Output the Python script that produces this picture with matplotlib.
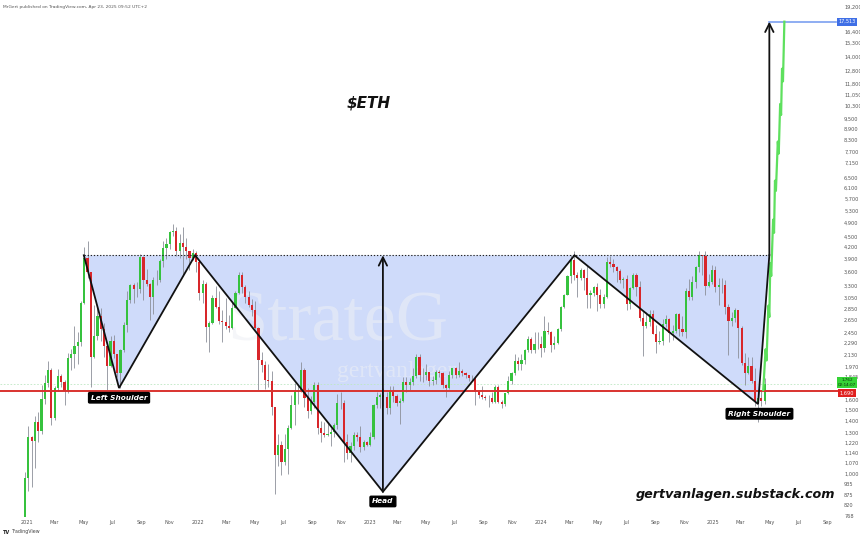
import numpy as np
import matplotlib
matplotlib.use('Agg')
import matplotlib.pyplot as plt
import matplotlib.dates as mdates
from matplotlib.ticker import NullLocator
from matplotlib.transforms import blended_transform_factory

# ---------------- data (weekly ETH/USD candles) ----------------
first_week = '2020-12-28'
first_open = 737

close = [975, 1260, 1230, 1390, 1315, 1610, 1780, 1935, 1420, 1725,
         1855, 1785, 1690, 2080, 2140, 2240, 2310, 2950, 3930, 3590,
         2100, 2390, 2710, 2510, 2250, 1980, 2320, 2140, 1890, 2190,
         2560, 3010, 3310, 3230, 3220, 3940, 3410, 3330, 3060, 3420,
         3410, 3850, 4170, 4290, 4620, 4640, 4100, 4300, 4200, 4100,
         3930, 4060, 3830,
         3150, 3330, 2540, 2600, 3050, 2880, 2630, 2620, 2550, 2520,
         2860, 3140, 3520, 3260, 3060, 2920, 2830, 2520, 2060, 1990,
         1810, 1800, 1530, 1130, 1200, 1075, 1170, 1340, 1550, 1680,
         1700, 1935, 1620, 1490, 1580, 1760, 1340, 1295, 1275, 1290,
         1305, 1360, 1570, 1570, 1220, 1140, 1195, 1280, 1265, 1185,
         1220, 1200,
         1265, 1550, 1630, 1650, 1630, 1515, 1690, 1640, 1565, 1590,
         1790, 1750, 1790, 1860, 2090, 1870, 1870, 1900, 1800, 1810,
         1910, 1890, 1750, 1720, 1870, 1950, 1865, 1920, 1890, 1865,
         1830, 1840, 1680, 1650, 1630, 1620, 1620, 1580, 1730, 1580,
         1555, 1665, 1795, 1895, 2045, 2010, 2060, 2190, 2350, 2195,
         2270, 2280,
         2220, 2475, 2450, 2260, 2290, 2500, 2880, 3110, 3490, 3880,
         3520, 3450, 3640, 3450, 3100, 3150, 3260, 3110, 2930, 3070,
         3830, 3780, 3700, 3620, 3420, 3440, 2930, 3250, 3530, 3270,
         2690, 2555, 2610, 2750, 2425, 2300, 2315, 2580, 2660, 2440,
         2470, 2750, 2510, 2460, 3180, 3070, 3360, 3710, 4000, 3960,
         3280, 3360,
         3630, 3270, 3310, 3300, 2870, 2630, 2690, 2820, 2520, 2020,
         1890, 1980, 1800, 1580, 1620, 1590, 1762]

high = [1010, 1350, 1270, 1440, 1475, 1750, 1870, 2040, 1950, 1740,
        1940, 1880, 1815, 2145, 2200, 2550, 2450, 2980, 4200, 4380,
        3600, 2910, 2890, 2850, 2600, 2250, 2400, 2410, 2140, 2200,
        2620, 3180, 3330, 3340, 3380, 4030, 3980, 3650, 3340, 3480,
        3640, 3890, 4370, 4460, 4660, 4870, 4770, 4560, 4780, 4440,
        4100, 4160, 4100,
        3880, 3420, 3380, 2640, 3100, 3290, 3190, 2830, 3040, 2730,
        2990, 3180, 3580, 3580, 3300, 3180, 3030, 2990, 2530, 2160,
        2040, 2010, 1920, 1530, 1290, 1230, 1290, 1360, 1650, 1780,
        1750, 2030, 1960, 1720, 1640, 1790, 1790, 1400, 1390, 1390,
        1340, 1380, 1660, 1680, 1600, 1290, 1220, 1300, 1300, 1350,
        1240, 1235,
        1300, 1560, 1680, 1670, 1720, 1680, 1740, 1740, 1660, 1620,
        1850, 1850, 1840, 1950, 2140, 2130, 1960, 2010, 1910, 1860,
        1930, 1930, 1900, 1770, 1920, 1960, 1970, 2030, 1940, 1900,
        1870, 1870, 1850, 1700, 1745, 1650, 1650, 1680, 1750, 1750,
        1600, 1670, 1860, 1910, 2140, 2100, 2130, 2200, 2400, 2380,
        2450, 2450,
        2400, 2720, 2610, 2470, 2390, 2520, 2900, 3130, 3520, 3990,
        4090, 3590, 3680, 3650, 3730, 3200, 3290, 3350, 3220, 3130,
        3950, 3980, 3890, 3720, 3650, 3480, 3520, 3270, 3560, 3560,
        3400, 2800, 2790, 2820, 2820, 2570, 2470, 2660, 2730, 2680,
        2560, 2770, 2770, 2720, 3250, 3440, 3500, 3720, 4100, 4010,
        4110, 3550,
        3760, 3740, 3450, 3450, 3420, 2940, 2790, 2850, 2830, 2550,
        2150, 2100, 2100, 1960, 1690, 1690, 1830]

low = [715, 900, 920, 1040, 1220, 1290, 1560, 1730, 1360, 1410,
       1690, 1730, 1550, 1670, 1935, 1950, 2000, 2250, 2930, 3450,
       1730, 2080, 2330, 2320, 2090, 1700, 1970, 2080, 1850, 1720,
       2160, 2450, 2950, 2950, 3060, 3150, 3000, 3290, 2650, 2750,
       3300, 3380, 3700, 3900, 4150, 4500, 3960, 3930, 3500, 3900,
       3640, 3880, 3600,
       3000, 2950, 2300, 2160, 2580, 2850, 2580, 2300, 2500, 2450,
       2500, 2850, 3130, 3150, 2950, 2880, 2720, 2500, 1700, 1900,
       1710, 1730, 1450, 880, 1050, 990, 1060, 1000, 1330, 1360,
       1560, 1680, 1530, 1420, 1460, 1520, 1290, 1220, 1260, 1270,
       1190, 1260, 1330, 1510, 1080, 1100, 1075, 1160, 1230, 1150,
       1160, 1190,
       1190, 1250, 1520, 1520, 1540, 1460, 1460, 1580, 1540, 1370,
       1580, 1680, 1700, 1760, 1840, 1800, 1790, 1810, 1740, 1760,
       1770, 1850, 1720, 1630, 1710, 1830, 1830, 1850, 1860, 1830,
       1800, 1800, 1550, 1620, 1610, 1600, 1530, 1570, 1570, 1570,
       1520, 1540, 1660, 1770, 1870, 1930, 1930, 2010, 2170, 2150,
       2150, 2200,
       2100, 2170, 2420, 2170, 2200, 2270, 2470, 2860, 3100, 3350,
       3420, 3060, 3420, 3210, 2850, 2860, 3080, 2810, 2860, 2860,
       3050, 3700, 3600, 3370, 3350, 3240, 2820, 2840, 3220, 3090,
       2630, 2110, 2520, 2550, 2420, 2150, 2270, 2260, 2540, 2310,
       2340, 2440, 2400, 2400, 2360, 3000, 3000, 3250, 3600, 3520,
       3100, 3260,
       3330, 3160, 2920, 3140, 2750, 2120, 2550, 2620, 2080, 1990,
       1750, 1880, 1780, 1540, 1390, 1540, 1560]

# inverse head & shoulders drawing
pattern_dates = ['2021-05-02', '2021-07-16', '2021-12-25', '2023-01-29',
                 '2024-03-12', '2025-04-07', '2025-05-01']
pattern_prices = [3990, 1722, 3990, 893, 3990, 1556, 3990]
pattern_names = {1: 'Left Shoulder', 3: 'Head', 5: 'Right Shoulder'}

neck_price = 3990
support_price = 1690
last_price = 1762
target_price = 17513

# projected path (light green)
proj_dates = ['2025-04-18', '2025-04-23', '2025-04-25', '2025-04-29', '2025-05-01',
              '2025-05-03', '2025-05-05', '2025-05-09', '2025-05-11', '2025-05-13',
              '2025-05-15', '2025-05-19', '2025-05-21', '2025-05-24', '2025-05-26',
              '2025-05-28', '2025-05-30', '2025-06-02']
proj_prices = [1700, 2200, 2050, 2900, 2700, 3800, 3500, 5000, 4600, 6400,
               6000, 8200, 7600, 10400, 9700, 13000, 12000, 17513]

y_tick_values = [19200, 16400, 15300, 14000, 12800, 11800, 11050, 10300, 9500, 8900,
                 8300, 7700, 7150, 6500, 6100, 5700, 5300, 4900, 4500, 4200, 3900,
                 3600, 3300, 3050, 2850, 2650, 2450, 2290, 2130, 1970, 1845, 1600,
                 1500, 1400, 1300, 1220, 1140, 1070, 1000, 935, 875, 820, 768]

x_tick_dates = ['2021-01-01', '2021-03-01', '2021-05-01', '2021-07-01', '2021-09-01', '2021-11-01',
                '2022-01-01', '2022-03-01', '2022-05-01', '2022-07-01', '2022-09-01', '2022-11-01',
                '2023-01-01', '2023-03-01', '2023-05-01', '2023-07-01', '2023-09-01', '2023-11-01',
                '2024-01-01', '2024-03-01', '2024-05-01', '2024-07-01', '2024-09-01', '2024-11-01',
                '2025-01-01', '2025-03-01', '2025-05-01', '2025-07-01', '2025-09-01']
x_tick_labels = ['2021', 'Mar', 'May', 'Jul', 'Sep', 'Nov',
                 '2022', 'Mar', 'May', 'Jul', 'Sep', 'Nov',
                 '2023', 'Mar', 'May', 'Jul', 'Sep', 'Nov',
                 '2024', 'Mar', 'May', 'Jul', 'Sep', 'Nov',
                 '2025', 'Mar', 'May', 'Jul', 'Sep']

# ---------------- figure ----------------
W, H = 860, 539
fig = plt.figure(figsize=(W / 100, H / 100), dpi=100)
ax_left, ax_right, ax_top, ax_bottom = 0, 833, 0, 517
ax = fig.add_axes([ax_left / W, (H - ax_bottom) / H,
                   (ax_right - ax_left) / W, (ax_bottom - ax_top) / H])
ax.set_yscale('log')

def dn(s):
    return mdates.date2num(np.datetime64(s))

n = len(close)
dates = mdates.date2num(np.datetime64(first_week) + np.arange(n) * np.timedelta64(7, 'D'))
opens = np.array([first_open] + close[:-1], dtype=float)
closes = np.array(close, dtype=float)
highs = np.array(high, dtype=float)
lows = np.array(low, dtype=float)

up = closes >= opens
green, red = '#36c23e', '#d8262a'
cols = np.where(up, green, red)

# pattern fill
pdn = [dn(d) for d in pattern_dates]
ax.fill(pdn, pattern_prices, color='#cad8fa', alpha=0.9, zorder=1, lw=0)

# watermark
ax.text(0.405, 0.342, 'StrateG', transform=ax.transAxes, fontsize=52,
        family='Liberation Serif', color='#eef0f5', alpha=0.55, ha='center',
        va='baseline', zorder=1.5)
ax.text(0.478, 0.27, 'gertvanlagen', transform=ax.transAxes, fontsize=17,
        family='Liberation Serif', color='#eef0f5', alpha=0.55, ha='center',
        va='baseline', zorder=1.5)

# candles
ax.vlines(dates, lows, highs, color='#8c8f99', lw=0.6, zorder=2)
ax.bar(dates, np.abs(closes - opens), bottom=np.minimum(opens, closes),
       width=4.6, color=cols, lw=0, zorder=3)

# support / current price lines
ax.plot([dn('2020-11-01'), dn('2025-09-25')], [support_price, support_price],
        color='#d9332f', lw=1.4, zorder=4, clip_on=False)
ax.axhline(last_price, color='#bfe8c4', lw=0.6, ls=(0, (2, 2)), zorder=1.8)

# neckline
ax.plot([pdn[0], pdn[-1]], [neck_price, neck_price], color='#222222', lw=0.8,
        ls=(0, (1.2, 1.6)), zorder=4)
# zigzag
ax.plot(pdn, pattern_prices, color='#111111', lw=1.3, zorder=5, solid_joinstyle='miter')

# head arrow
ax.annotate('', xy=(pdn[3], neck_price), xytext=(pdn[3], pattern_prices[3]),
            arrowprops=dict(arrowstyle='->', color='#111111', lw=1.3, mutation_scale=15,
                            shrinkA=0, shrinkB=0), zorder=5)
# target arrow
ax.annotate('', xy=(pdn[-1], target_price), xytext=(pdn[-1], neck_price),
            arrowprops=dict(arrowstyle='->', color='#111111', lw=1.3, mutation_scale=15,
                            shrinkA=0, shrinkB=0), zorder=5)
# target line
ax.plot([pdn[-1], dn('2025-09-20')], [target_price, target_price],
        color='#7b9ff0', lw=1.2, zorder=4, clip_on=False)

# projection
ax.plot([dn(d) for d in proj_dates], proj_prices, color='#5ee05e', lw=1.6, zorder=4)

# pattern labels
for i, name in pattern_names.items():
    ax.annotate(name, xy=(pdn[i], pattern_prices[i]), xytext=(1 if i == 5 else 0, -7),
                textcoords='offset points', ha='center', va='center', fontsize=5.3,
                color='white', fontweight='bold', style='italic', zorder=7,
                bbox=dict(boxstyle='round,pad=0.3,rounding_size=0.15', fc='black', ec='black'))

# titles / branding
ax.text(0.442, 0.80, '$ETH', transform=ax.transAxes, fontsize=11, fontweight='bold',
        style='italic', color='#111111', ha='center', va='center', zorder=7)
ax.text(0.883, 0.043, 'gertvanlagen.substack.com', transform=ax.transAxes, fontsize=9.2,
        fontweight='bold', style='italic', color='#111111', ha='center', va='center', zorder=7)
ax.text(0.004, 0.991, 'MrGert published on TradingView.com, Apr 23, 2025 09:52 UTC+2',
        transform=ax.transAxes, fontsize=3.2, color='#555555', ha='left', va='top')
fig.text(3 / W, 1 - 532 / H, 'TV', fontsize=3.6, fontweight='bold', color='#222222',
         ha='left', va='center')
fig.text(12 / W, 1 - 532 / H, 'TradingView', fontsize=3.4, color='#444444',
         ha='left', va='center')

# axes limits
x0 = dn('2021-01-01')
px_per_day = 171.5 / 365.25
ax.set_xlim(x0 - 27 / px_per_day, x0 + (833 - 27) / px_per_day)
ax.set_ylim(761, 20090)

# ticks
ax.yaxis.tick_right()
ax.set_yticks(y_tick_values)
ax.set_yticklabels([f'{v:,}' for v in y_tick_values])
ax.yaxis.set_minor_locator(NullLocator())
ax.set_xticks([dn(d) for d in x_tick_dates])
ax.set_xticklabels(x_tick_labels)
ax.xaxis.set_minor_locator(NullLocator())
ax.tick_params(axis='y', length=0, labelsize=3.6, labelcolor='#555555', pad=8)
ax.tick_params(axis='x', length=0, labelsize=3.6, labelcolor='#555555', pad=2.5)
for s in ax.spines.values():
    s.set_visible(False)

# price-scale labels
bt = blended_transform_factory(ax.transAxes, ax.transData)
ax.text(1.0 + 14 / 833, target_price, f'{target_price:,}', transform=bt, fontsize=3.6,
        color='white', ha='center', va='center', zorder=8,
        bbox=dict(boxstyle='square,pad=0.3', fc='#3f6fe6', ec='none'))
ax.text(1.0 + 14 / 833, last_price * 1.012, f'{last_price:,}\n02:14:07', transform=bt,
        fontsize=3.0, color='#0c300c', ha='center', va='center', zorder=8, linespacing=1.1,
        bbox=dict(boxstyle='square,pad=0.3', fc='#35d335', ec='none'))
ax.text(1.0 + 14 / 833, support_price * 0.985, f'{support_price:,}', transform=bt,
        fontsize=3.6, color='white', ha='center', va='center', zorder=8,
        bbox=dict(boxstyle='square,pad=0.3', fc='#e0201f', ec='none'))

fig.savefig('out.png', dpi=100, facecolor='white')
